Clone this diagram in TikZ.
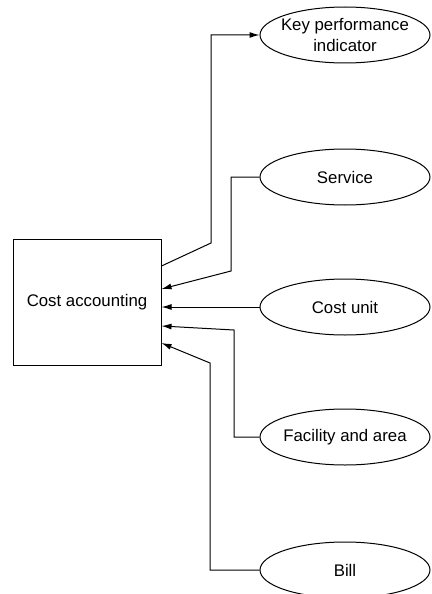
\documentclass[tikz,border=0pt]{standalone}
\usepackage{fontspec}
\setmainfont{Liberation Sans}
\usetikzlibrary{arrows.meta,shapes.geometric}
\tikzset{
  account/.style={draw,line width=1pt,minimum width=148pt,minimum height=126pt,
    align=center,inner sep=4pt},
  source/.style={draw,ellipse,line width=1pt,minimum width=170pt,minimum height=56pt,
    align=center,inner xsep=-5pt,inner ysep=-3pt},
  flow/.style={-{Latex[length=10pt,width=6pt]},line width=1pt}
}

\begin{document}
\begin{tikzpicture}[x=1pt,y=-1pt,font=\fontsize{16.8}{21}\selectfont]
  \useasboundingbox (0,0) rectangle (431,594);

  \node[account] (cost) at (87,302) {Cost accounting};

  \node[source] (kpi) at (345,35) {Key performance\\indicator};
  \node[source] (service) at (345,177) {Service};
  \node[source] (unit) at (345,307) {Cost unit};
  \node[source] (facility) at (345,437) {Facility and area};
  \node[source] (bill) at (345,570) {Bill};

  \draw[flow] ([yshift=36pt]cost.east) -- (211,243) |- (kpi.west);
  \draw[flow] (service.west) -| (231,271) -- ([yshift=13pt]cost.east);
  \draw[flow] (unit.west) -- (unit.west -| cost.east);
  \draw[flow] (facility.west) -| (234,330) -- ([yshift=-24pt]cost.east);
  \draw[flow] (bill.west) -| (210,363) -- ([yshift=-41pt]cost.east);
\end{tikzpicture}
\end{document}
